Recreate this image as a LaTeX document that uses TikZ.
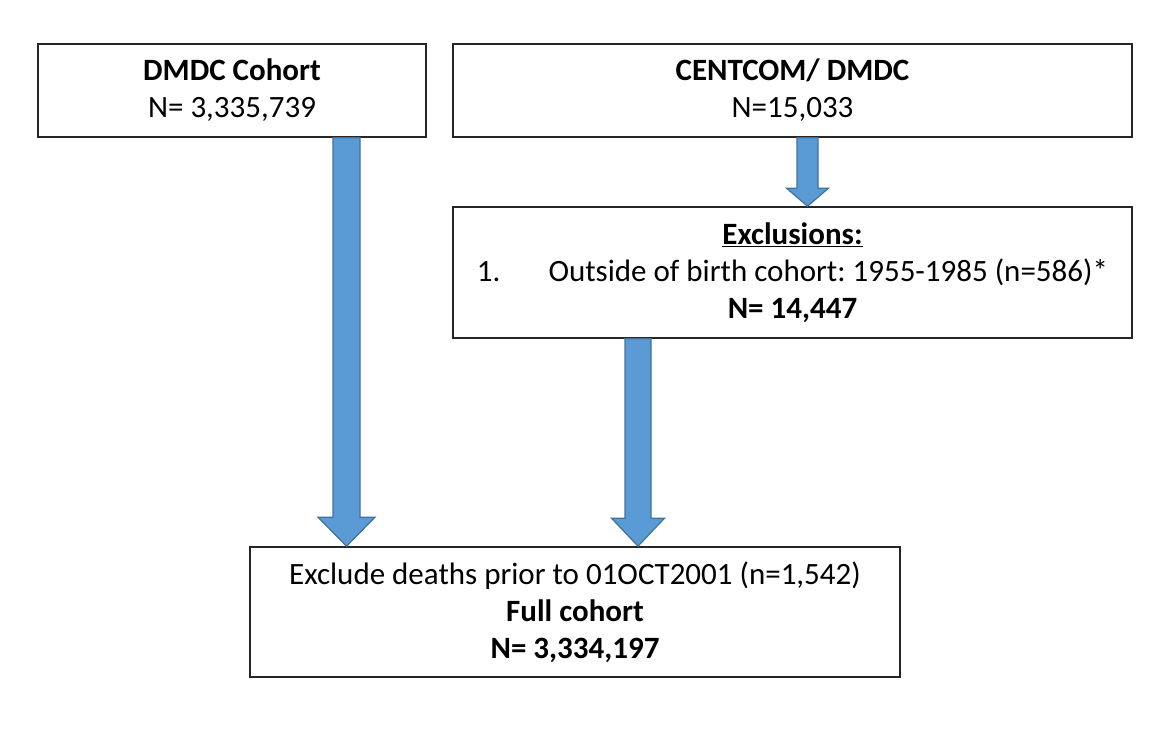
\documentclass[tikz,border=0pt]{standalone}
\usepackage{fontspec}
\setmainfont{Carlito}
\usepackage{xcolor}
\usetikzlibrary{calc}
\frenchspacing

\definecolor{arrowblue}{HTML}{5B9BD5}
\definecolor{arrowedge}{HTML}{41719C}

% block arrow: from, to, half shaft, half head, head length
\newcommand{\blockarrow}[5]{%
  \draw[fatarrow] ($(#1)+(-#3,0)$) -- ($(#2)+(-#3,-#5)$) -- ($(#2)+(-#4,-#5)$)
    -- (#2) -- ($(#2)+(#4,-#5)$) -- ($(#2)+(#3,-#5)$) -- ($(#1)+(#3,0)$) -- cycle;
}

\begin{document}
\begin{tikzpicture}[x=1pt,y=-1pt,
    box/.style={draw=black!85, line width=1.6pt, align=center, inner sep=0pt,
      font=\fontsize{31}{37}\selectfont},
    fatarrow/.style={fill=arrowblue, draw=arrowedge, line width=1.2pt, line join=miter}]
  \useasboundingbox (0,0) rectangle (1175,736);

  % Sources
  \node[box, minimum width=388pt, minimum height=93pt] (dmdc) at (232,90.5)
    {\textbf{DMDC Cohort}\\N= 3,335,739};
  \node[box, minimum width=679pt, minimum height=93pt] (centcom) at (792.5,90.5)
    {\textbf{CENTCOM/ DMDC}\\N=15,033};

  % Exclusions
  \node[box, minimum width=679pt, minimum height=131pt] (excl) at (792.5,272.5)
    {\textbf{\underline{Exclusions:}}\\
     1.\hspace{48pt}Outside of birth cohort: 1955-1985 (n=586)*\\
     \textbf{N= 14,447}};

  % Full cohort
  \node[box, minimum width=650pt, minimum height=130pt] (full) at (575,612)
    {Exclude deaths prior to 01OCT2001 (n=1,542)\\
     \textbf{Full cohort}\\
     \textbf{N= 3,334,197}};

  % Arrows
  \coordinate (xleft) at (346.5,0);
  \coordinate (xtop) at (807.5,0);
  \coordinate (xmid) at (638,0);
  \coordinate (a1) at (dmdc.south -| xleft);
  \coordinate (b1) at (full.north -| xleft);
  \coordinate (a2) at (centcom.south -| xtop);
  \coordinate (b2) at (excl.north -| xtop);
  \coordinate (a3) at (excl.south -| xmid);
  \coordinate (b3) at (full.north -| xmid);
  \blockarrow{a1}{b1}{13.5}{28.5}{29}
  \blockarrow{a2}{b2}{10.5}{21}{18}
  \blockarrow{a3}{b3}{13}{26.5}{28}
\end{tikzpicture}
\end{document}
